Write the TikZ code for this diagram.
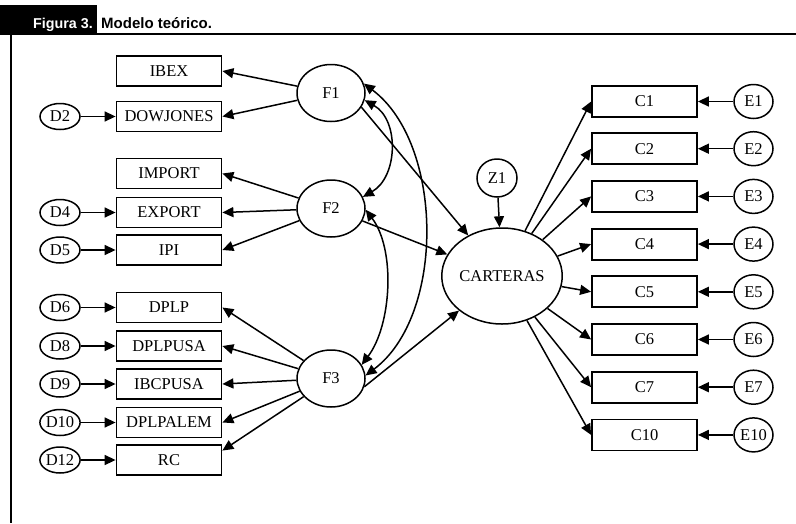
\documentclass[tikz,border=0pt]{standalone}
\usepackage{fontspec}
\setmainfont{Liberation Serif}
\newfontfamily\headfont{Liberation Sans}
\usetikzlibrary{arrows.meta,shapes.geometric}

\begin{document}
\begin{tikzpicture}[x=1pt,y=-1pt,
  font=\fontsize{16.5}{19}\selectfont,
  ind/.style={draw,line width=1.8pt,minimum width=105pt,minimum height=30pt,inner sep=0pt},
  res/.style={draw,ellipse,line width=1.5pt,minimum width=40pt,minimum height=26pt,inner sep=0pt},
  lat/.style={draw,ellipse,line width=1.5pt,minimum width=68pt,minimum height=57pt,inner sep=0pt},
  arr/.style={line width=1.5pt,-{Triangle[length=11pt,width=10pt]}},
  cov/.style={line width=1.5pt,{Triangle[length=11pt,width=10pt]}-{Triangle[length=11pt,width=10pt]}},
  head/.style={anchor=base west,inner sep=0pt,font=\headfont\bfseries\fontsize{15}{18}\selectfont}]
\useasboundingbox (0,0) rectangle (796,523);
\fill (0,5) rectangle (97,34);
\node [head,text=white,font=\headfont\bfseries\fontsize{14.3}{18}\selectfont] (fig) at (33,28) {Figura 3.};
\node [head] (title) at (101,28) {Modelo teórico.};
\draw [line width=2.5pt] (0,34) -- (796,34);
\draw [line width=2pt] (11,34) -- (11,523);
\node [ind] (ibex) at (169,71) {IBEX};
\node [ind] (dowjones) at (169,116.5) {DOWJONES};
\node [ind] (import) at (169,173.5) {IMPORT};
\node [ind] (export) at (169,212.5) {EXPORT};
\node [ind] (ipi) at (169,250) {IPI};
\node [ind] (dplp) at (169,307.5) {DPLP};
\node [ind] (dplpusa) at (169,346) {DPLPUSA};
\node [ind] (ibcpusa) at (169,384) {IBCPUSA};
\node [ind] (dplpalem) at (169,422.5) {DPLPALEM};
\node [ind] (rc) at (169,460) {RC};
\node [res] (d2) at (60,116.5) {D2};
\node [res] (d4) at (60,212.5) {D4};
\node [res] (d5) at (60,250) {D5};
\node [res] (d6) at (60,307.5) {D6};
\node [res] (d8) at (60,346) {D8};
\node [res] (d9) at (60,384) {D9};
\node [res] (d10) at (60,422.5) {D10};
\node [res] (d12) at (60,460) {D12};
\node [lat] (f1) at (331,93) {F1};
\node [lat] (f2) at (331,208.5) {F2};
\node [lat] (f3) at (331,378.5) {F3};
\node [draw,ellipse,line width=1.5pt,minimum width=105pt,minimum height=96pt,inner sep=0pt] (carteras) at (502,276) {CARTERAS};
\node [draw,ellipse,line width=1.5pt,minimum width=40pt,minimum height=38pt,inner sep=0pt] (z1) at (497,178) {Z1};
\node [ind,minimum height=31pt] (c1) at (644.5,101.5) {C1};
\node [ind,minimum height=31pt] (c2) at (644.5,148.7) {C2};
\node [ind,minimum height=31pt] (c3) at (644.5,196.4) {C3};
\node [ind,minimum height=31pt] (c4) at (644.5,244.1) {C4};
\node [ind,minimum height=31pt] (c5) at (644.5,291.8) {C5};
\node [ind,minimum height=31pt] (c6) at (644.5,339.5) {C6};
\node [ind,minimum height=31pt] (c7) at (644.5,387.2) {C7};
\node [ind,minimum height=31pt] (c10) at (644.5,434.9) {C10};
\node [res,minimum width=39pt,minimum height=34pt] (e1) at (753.5,101.5) {E1};
\node [res,minimum width=39pt,minimum height=34pt] (e2) at (753.5,148.7) {E2};
\node [res,minimum width=39pt,minimum height=34pt] (e3) at (753.5,196.4) {E3};
\node [res,minimum width=39pt,minimum height=34pt] (e4) at (753.5,244.1) {E4};
\node [res,minimum width=39pt,minimum height=34pt] (e5) at (753.5,291.8) {E5};
\node [res,minimum width=39pt,minimum height=34pt] (e6) at (753.5,339.5) {E6};
\node [res,minimum width=39pt,minimum height=34pt] (e7) at (753.5,387.2) {E7};
\node [res,minimum width=39pt,minimum height=34pt] (e10) at (753.5,434.9) {E10};
\draw [arr] (d2) -- (dowjones);
\draw [arr] (d4) -- (export);
\draw [arr] (d5) -- (ipi);
\draw [arr] (d6) -- (dplp);
\draw [arr] (d8) -- (dplpusa);
\draw [arr] (d9) -- (ibcpusa);
\draw [arr] (d10) -- (dplpalem);
\draw [arr] (d12) -- (rc);
\draw [arr] (f1) -- (ibex.east);
\draw [arr] (f1) -- (dowjones.east);
\draw [arr] (f2) -- (import.east);
\draw [arr] (f2) -- (export.east);
\draw [arr] (f2) -- (ipi.east);
\draw [arr] (f3) -- (dplp.east);
\draw [arr] (f3) -- (dplpusa.east);
\draw [arr] (f3) -- (ibcpusa.east);
\draw [arr] (f3) -- (dplpalem.east);
\draw [arr] (f3) -- (rc.10);
\draw [arr] (f1.-25) -- (carteras);
\draw [arr] (f2) -- (carteras);
\draw [arr] (f3.-14) -- (carteras);
\draw [cov] (f1.-12) .. controls +(35,20) and +(35,-20) .. (f2.20);
\draw [cov] (f2.-2) .. controls +(30,40) and +(30,-40) .. (f3.24);
\draw [cov] (f1.16) .. controls +(80,60) and +(80,-60) .. (f3.5);
\draw [arr] (z1) -- (carteras);
\draw [arr] (carteras) -- (c1.west);
\draw [arr] (carteras) -- (c2.west);
\draw [arr] (carteras) -- (c3.west);
\draw [arr] (carteras) -- (c4.west);
\draw [arr] (carteras) -- (c5.west);
\draw [arr] (carteras) -- (c6.west);
\draw [arr] (carteras) -- (c7.west);
\draw [arr] (carteras) -- (c10.west);
\draw [arr] (e1) -- (c1);
\draw [arr] (e2) -- (c2);
\draw [arr] (e3) -- (c3);
\draw [arr] (e4) -- (c4);
\draw [arr] (e5) -- (c5);
\draw [arr] (e6) -- (c6);
\draw [arr] (e7) -- (c7);
\draw [arr] (e10) -- (c10);
\end{tikzpicture}
\end{document}
